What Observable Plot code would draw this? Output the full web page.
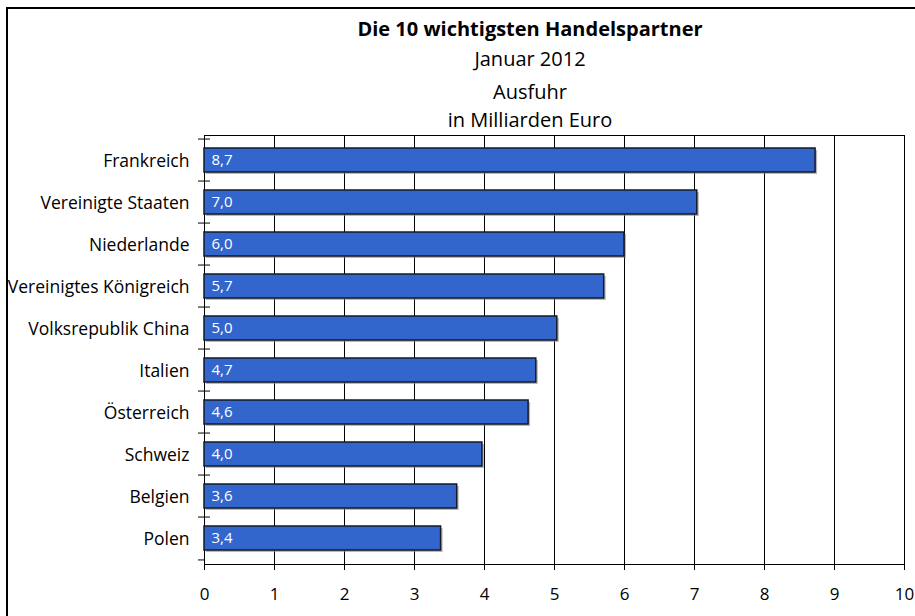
<!DOCTYPE html>
<html><head><meta charset="utf-8">
<script src="https://cdn.jsdelivr.net/npm/d3@7"></script>
<script src="https://cdn.jsdelivr.net/npm/@observablehq/plot@0.6"></script>
<style>
html,body{margin:0;padding:0;width:915px;height:616px;overflow:hidden;background:#fff;font-family:"Open Sans",sans-serif;}
#frame{position:absolute;left:6px;top:7px;width:930px;height:640px;border:2px solid #000;box-shadow:2px 2px 0 #aaa;}
.t{position:absolute;left:280px;width:500px;text-align:center;color:#000;white-space:nowrap;line-height:1;}
#chart{position:absolute;left:0;top:0;}
</style></head><body>
<div id="frame"></div>
<div id="chart"></div>
<div class="t" style="top:18.5px;font-size:20px;font-weight:bold">Die 10 wichtigsten Handelspartner</div>
<div class="t" style="top:48.5px;font-size:20px">Januar 2012</div>
<div class="t" style="top:81.5px;font-size:20px">Ausfuhr</div>
<div class="t" style="top:109.5px;font-size:20px">in Milliarden Euro</div>
<script>
const countries = ["Frankreich","Vereinigte Staaten","Niederlande","Vereinigtes Königreich","Volksrepublik China","Italien","Österreich","Schweiz","Belgien","Polen"];
const values = [8.73, 7.04, 6.00, 5.71, 5.04, 4.74, 4.63, 3.97, 3.61, 3.38];
const labels = ["8,7","7,0","6,0","5,7","5,0","4,7","4,6","4,0","3,6","3,4"];
const xTicks = [0,1,2,3,4,5,6,7,8,9,10];

const data = countries.map((c,i)=>({country:c, value:values[i], label:labels[i]}));
const W=915,H=616,mt=135,mb=52,ml=204,mr=11;
const step=(H-mt-mb)/countries.length;
const chart = Plot.plot({
  width:W,height:H,marginTop:mt,marginBottom:mb,marginLeft:ml,marginRight:mr,
  style:{fontFamily:"Open Sans",fontSize:"17px",color:"#000",background:"transparent",overflow:"visible"},
  x:{domain:[0,10]},
  y:{domain:countries,paddingInner:0.42,paddingOuter:0.21},
  marks:[
    Plot.gridX(xTicks,{stroke:"#000",strokeOpacity:1}),
    Plot.frame({stroke:"#000"}),
    Plot.barX(data,{x:"value",y:"country",fill:"#888",fillOpacity:0.6,dx:2,dy:2}),
    Plot.barX(data,{x:"value",y:"country",fill:"#3366cc",stroke:"#151a2a",strokeWidth:1.5}),
    Plot.text(data,{x:0,y:"country",text:"label",textAnchor:"start",dx:7,fill:"#fff",fontSize:15}),
    Plot.axisY({tickSize:0,tickPadding:15,fontSize:17.5,dy:1,label:null}),
    Plot.axisY({tickSize:12,dx:6,dy:-step/2,tickFormat:()=>"",label:null}),
    Plot.axisY([countries[countries.length-1]],{tickSize:6,dy:step/2,tickFormat:()=>"",label:null}),
    Plot.axisX(xTicks,{tickSize:6,tickPadding:17,fontSize:17,label:null})
  ]
});
document.getElementById("chart").appendChild(chart);
</script>
</body></html>
